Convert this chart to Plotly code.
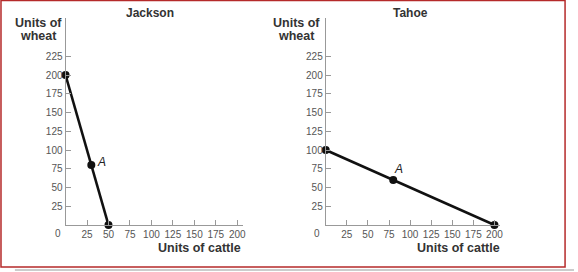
import plotly.graph_objects as go

W, H = 578, 272

# Data
jackson_cattle = [0, 30, 50]
jackson_wheat = [200, 80, 0]
tahoe_cattle = [0, 80, 200]
tahoe_wheat = [100, 60, 0]
x_ticks = [25, 50, 75, 100, 125, 150, 175, 200]
y_ticks = [25, 50, 75, 100, 125, 150, 175, 200, 225]
titles = ["Jackson", "Tahoe"]

def px(x):
    return x / W

def py(y):
    return 1 - y / H

FONT = "Liberation Sans, Arial, sans-serif"
fig = go.Figure()

fig.add_trace(go.Scatter(x=jackson_cattle, y=jackson_wheat, mode="lines+markers",
                         line=dict(color="#111", width=2.6),
                         marker=dict(color="#111", size=8), xaxis="x", yaxis="y",
                         showlegend=False, cliponaxis=False))
fig.add_trace(go.Scatter(x=tahoe_cattle, y=tahoe_wheat, mode="lines+markers",
                         line=dict(color="#111", width=2.6),
                         marker=dict(color="#111", size=8), xaxis="x2", yaxis="y2",
                         showlegend=False, cliponaxis=False))

axis_common = dict(showgrid=False, zeroline=False, showline=True, linecolor="#999",
                   linewidth=1, ticks="inside", ticklen=5, tickcolor="#999",
                   tickfont=dict(family=FONT, size=10, color="#555"), fixedrange=True)

fig.update_layout(
    width=W, height=H,
    margin=dict(l=0, r=0, t=0, b=0),
    paper_bgcolor="white", plot_bgcolor="white",
    xaxis=dict(domain=[px(66), px(245)], range=[0, 207], tickvals=x_ticks,
               anchor="y", **axis_common),
    yaxis=dict(domain=[py(225), py(18)], range=[0, 276], tickvals=y_ticks,
               anchor="x", **axis_common),
    xaxis2=dict(domain=[px(328), px(503)], range=[0, 206], tickvals=x_ticks,
                anchor="y2", **axis_common),
    yaxis2=dict(domain=[py(225), py(18)], range=[0, 276], tickvals=y_ticks,
                anchor="x2", **axis_common),
)

lab_font = dict(family=FONT, size=12.5, color="#333")
ann = []
# titles
ann.append(dict(text="<b>" + titles[0] + "</b>", x=px(151), y=py(13), xref="paper", yref="paper",
                showarrow=False, font=dict(family=FONT, size=12, color="#333"),
                xanchor="center", yanchor="middle"))
ann.append(dict(text="<b>" + titles[1] + "</b>", x=px(413), y=py(13), xref="paper", yref="paper",
                showarrow=False, font=dict(family=FONT, size=12, color="#333"),
                xanchor="center", yanchor="middle"))
# y labels (two lines, tight spacing)
for cx in (39, 299):
    ann.append(dict(text="<b>Units of</b>", x=px(cx), y=py(23), xref="paper", yref="paper",
                    showarrow=False, font=lab_font, xanchor="center", yanchor="middle"))
    ann.append(dict(text="<b>wheat</b>", x=px(cx), y=py(36), xref="paper", yref="paper",
                    showarrow=False, font=lab_font, xanchor="center", yanchor="middle"))
# x labels
for rx in (245, 506):
    ann.append(dict(text="<b>Units of cattle</b>", x=px(rx), y=py(248), xref="paper", yref="paper",
                    showarrow=False, font=lab_font, xanchor="right", yanchor="middle"))
# zeros
for zx in (58, 319):
    ann.append(dict(text="0", x=px(zx), y=py(233), xref="paper", yref="paper",
                    showarrow=False, font=dict(family=FONT, size=10, color="#555"),
                    xanchor="center", yanchor="middle"))
# point A labels
ann.append(dict(text="<i>A</i>", x=jackson_cattle[1], y=jackson_wheat[1], xref="x", yref="y",
                showarrow=False, font=dict(family=FONT, size=12, color="#222"),
                xanchor="left", yanchor="middle", xshift=4, yshift=3))
ann.append(dict(text="<i>A</i>", x=tahoe_cattle[1], y=tahoe_wheat[1], xref="x2", yref="y2",
                showarrow=False, font=dict(family=FONT, size=12, color="#222"),
                xanchor="left", yanchor="bottom", xshift=-1, yshift=2))
fig.update_layout(annotations=ann)

# frame and bottom rule
fig.add_shape(type="rect", xref="paper", yref="paper", x0=px(1), y0=py(267), x1=px(569), y1=py(0.5),
              line=dict(color="#b52a2a", width=1.5))
fig.add_shape(type="line", xref="paper", yref="paper", x0=px(15), y0=py(270), x1=1, y1=py(270),
              line=dict(color="#cccccc", width=2))

fig.write_html("out.html")
